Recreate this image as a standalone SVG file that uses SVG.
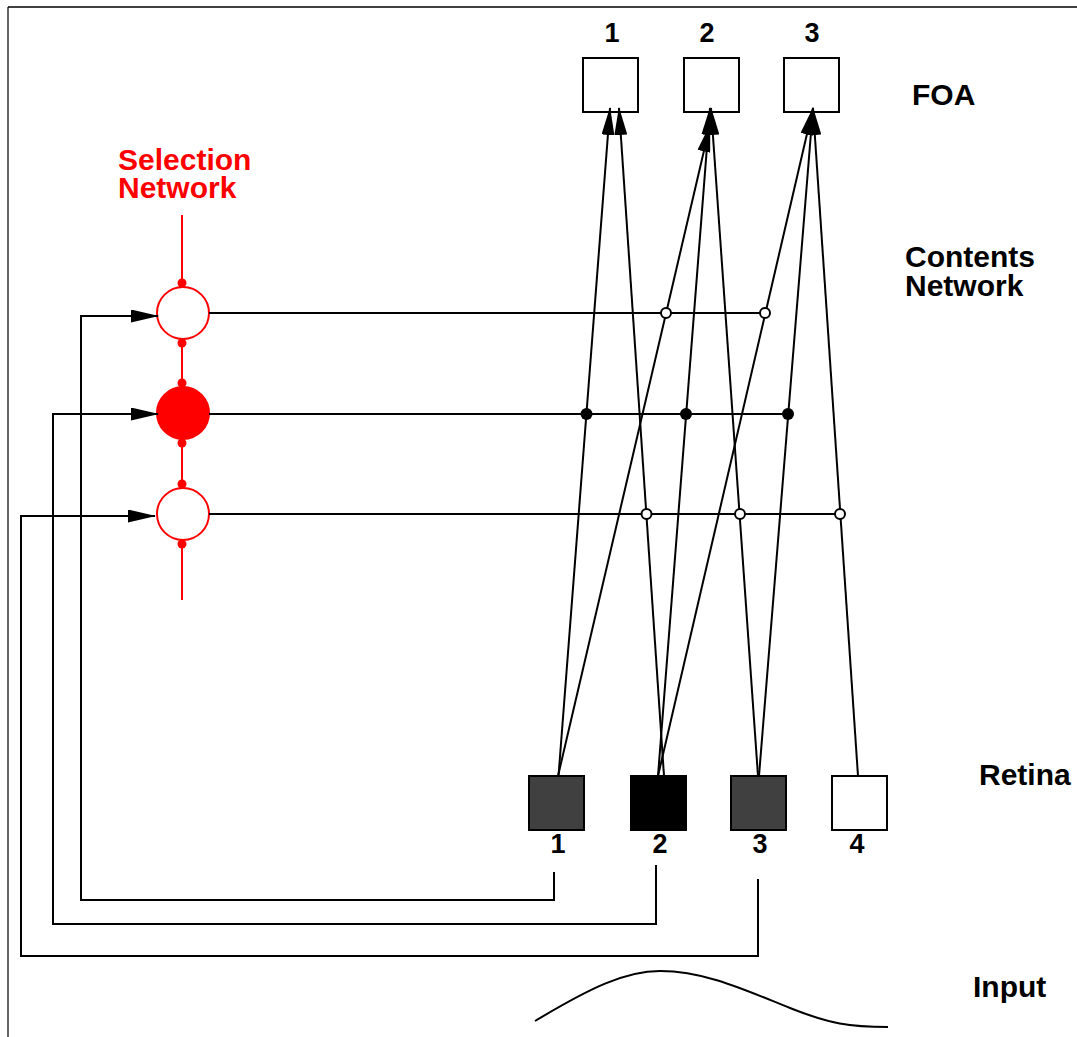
<svg xmlns="http://www.w3.org/2000/svg" width="1077" height="1037" viewBox="0 0 1077 1037">
<defs>
<style>
.lbl{font-family:"Liberation Sans",Arial,sans-serif;font-weight:bold;font-size:30px;fill:#000}
.num{font-family:"Liberation Sans",Arial,sans-serif;font-weight:bold;font-size:27px;fill:#000;text-anchor:middle}
.red{fill:#ff0000}
.ln{fill:none;stroke:#000;stroke-width:2}
.box{stroke:#000;stroke-width:2}
.open{fill:#fff;stroke:#000;stroke-width:2}
.dot{fill:#000}
.rl{fill:none;stroke:#ff0000;stroke-width:2}
</style>
<marker id="arr" markerUnits="userSpaceOnUse" markerWidth="28" markerHeight="13" refX="27" refY="6.5" orient="auto" viewBox="0 0 28 13">
<path d="M0,0 L28,6.5 L0,13 z" fill="#000"/>
</marker>
</defs>
<rect width="1077" height="1037" fill="#fff"/>
<g id="frame">
<line x1="8" y1="7" x2="1077" y2="7" stroke="#000" stroke-width="1.5"/>
<line x1="8" y1="7" x2="8" y2="1037" stroke="#000" stroke-width="1.2"/>
</g>
<g id="foa">
<rect class="box" x="583" y="58" width="55" height="54" fill="#fff"/>
<rect class="box" x="684" y="58" width="55" height="54" fill="#fff"/>
<rect class="box" x="784" y="58" width="55" height="54" fill="#fff"/>
<text class="num" x="612" y="42">1</text>
<text class="num" x="707" y="42">2</text>
<text class="num" x="812" y="42">3</text>
<text class="lbl" x="912" y="105">FOA</text>
</g>
<g id="retina">
<rect class="box" x="529" y="776" width="55" height="54" fill="#404040"/>
<rect class="box" x="631" y="776" width="55" height="54" fill="#000"/>
<rect class="box" x="731" y="776" width="55" height="54" fill="#404040"/>
<rect class="box" x="832" y="776" width="55" height="54" fill="#fff"/>
<text class="num" x="558" y="853">1</text>
<text class="num" x="660" y="853">2</text>
<text class="num" x="760" y="853">3</text>
<text class="num" x="857" y="853">4</text>
<text class="lbl" x="979" y="785">Retina</text>
</g>
<g id="selection-network">
<line class="rl" x1="182" y1="215" x2="182" y2="600"/>
<circle cx="183" cy="313" r="26" fill="#fff" stroke="#ff0000" stroke-width="2"/>
<circle cx="183" cy="413" r="26" fill="#ff0000" stroke="#ff0000" stroke-width="2"/>
<circle cx="183" cy="514" r="26" fill="#fff" stroke="#ff0000" stroke-width="2"/>
<g class="red">
<circle cx="182" cy="283" r="4.5"/>
<circle cx="182" cy="343" r="4.5"/>
<circle cx="182" cy="383" r="4.5"/>
<circle cx="182" cy="443" r="4.5"/>
<circle cx="182" cy="484" r="4.5"/>
<circle cx="182" cy="544" r="4.5"/>
</g>
<text class="lbl red" x="118" y="170">Selection<tspan x="118" y="198">Network</tspan></text>
</g>
<g id="contents-network">
<text class="lbl" x="905" y="267">Contents<tspan x="905" y="296">Network</tspan></text>
</g>
<g id="connectors">
<line class="ln" x1="209" y1="313" x2="765" y2="313"/>
<line class="ln" x1="209" y1="414" x2="788" y2="414"/>
<line class="ln" x1="209" y1="514" x2="840" y2="514"/>
<line class="ln" x1="558.5" y1="776" x2="610" y2="108" marker-end="url(#arr)"/>
<line class="ln" x1="558" y1="776" x2="710" y2="125" marker-end="url(#arr)"/>
<line class="ln" x1="664" y1="776" x2="619" y2="108" marker-end="url(#arr)"/>
<line class="ln" x1="658" y1="776" x2="710" y2="108" marker-end="url(#arr)"/>
<line class="ln" x1="658" y1="776" x2="813" y2="108" marker-end="url(#arr)"/>
<line class="ln" x1="758" y1="776" x2="711" y2="108" marker-end="url(#arr)"/>
<line class="ln" x1="759" y1="776" x2="813" y2="108" marker-end="url(#arr)"/>
<line class="ln" x1="858" y1="776" x2="813" y2="108" marker-end="url(#arr)"/>
<path class="ln" d="M554,872 V900 H81 V316 H158" marker-end="url(#arr)"/>
<path class="ln" d="M656,865 V924 H53 V414 H158" marker-end="url(#arr)"/>
<path class="ln" d="M758,879 V956 H21 V516 H155" marker-end="url(#arr)"/>
<circle class="open" cx="666" cy="313" r="5"/>
<circle class="open" cx="765" cy="313" r="5"/>
<circle class="dot" cx="586.5" cy="414" r="6"/>
<circle class="dot" cx="686" cy="414" r="6"/>
<circle class="dot" cx="788" cy="414" r="6"/>
<circle class="open" cx="646.5" cy="514" r="5"/>
<circle class="open" cx="740" cy="514" r="5"/>
<circle class="open" cx="840" cy="514" r="5"/>
</g>
<g id="input">
<path class="ln" d="M535,1021 C590,988 625,971 660,971 C705,971 745,990 790,1008 C830,1024 850,1027 888,1027"/>
<text class="lbl" x="973" y="997">Input</text>
</g>
</svg>
